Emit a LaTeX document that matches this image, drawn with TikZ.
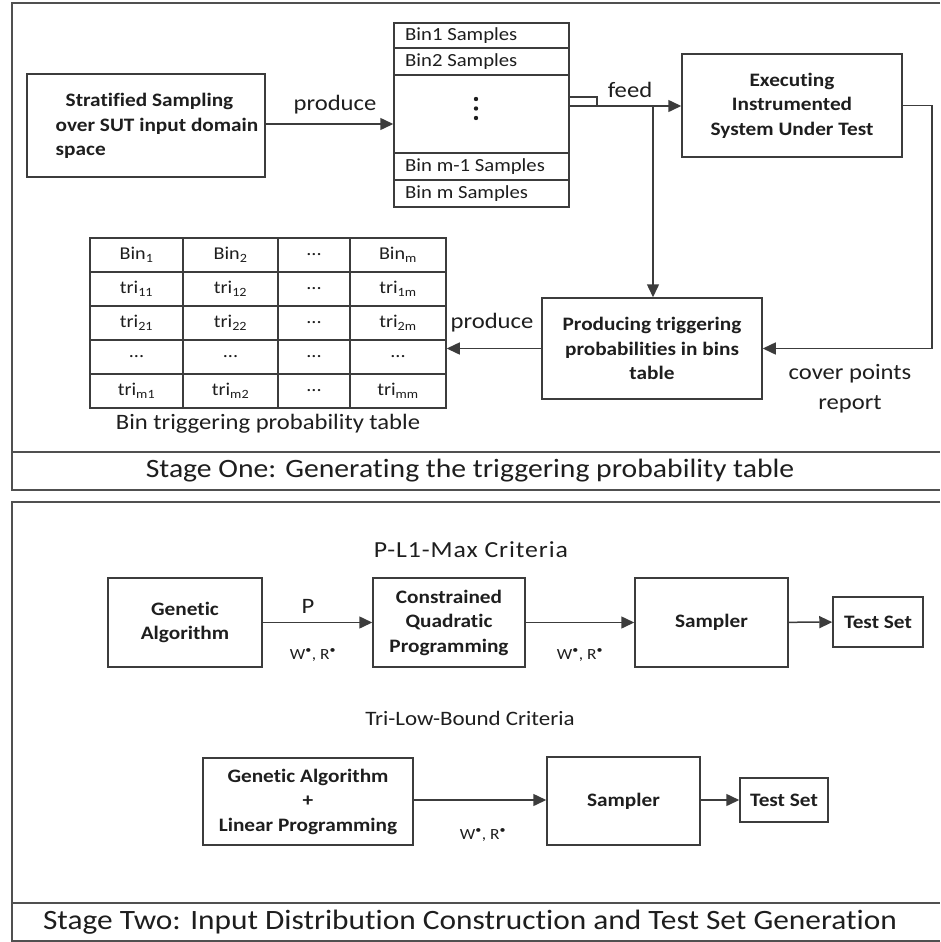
\documentclass[tikz,border=0pt]{standalone}
\usepackage{fontspec}
\setmainfont[FakeStretch=1.12, Ligatures={NoCommon}]{Carlito}
\usetikzlibrary{arrows.meta}
\definecolor{ink}{HTML}{1E1E1E}
\definecolor{edge}{HTML}{3C3C3C}
\definecolor{framec}{HTML}{505050}
\newcommand\bxfont{\fontsize{19}{24.5}\selectfont\bfseries}
\newcommand\lbfont{\fontsize{22}{30}\selectfont}
\newcommand\crfont{\fontsize{20.5}{26}\selectfont}
\newcommand\crbigfont{\fontsize{23}{26}\selectfont\addfontfeature{LetterSpace=4}}
\newcommand\smfont{\fontsize{15.5}{18}\selectfont}
\newcommand\tbfont{\fontsize{18.5}{22}\selectfont}
\newcommand\cellfont{\fontsize{18}{22}\selectfont}
\newcommand\stfont{\fontsize{26.5}{30}\selectfont}
\newcommand\sttwofont{\fontsize{28}{30}\selectfont}
\newcommand\rb{\textsuperscript{\textbullet}}
\begin{document}
\begin{tikzpicture}[x=1pt,y=-1pt,
  every node/.style={text=ink},
  box/.style={draw=edge, line width=1.5pt, inner sep=0pt, font=\bxfont, align=center},
  lbl/.style={font=\lbfont, inner sep=0pt, align=center},
  arr/.style={draw=edge, line width=1.5pt, -{Triangle[length=13pt,width=12pt]}},
  conn/.style={draw=edge, line width=1.5pt},
  frame/.style={draw=framec, line width=2pt}]
\useasboundingbox[fill=white] (0,0) rectangle (940,942);

% ---------- stage frames ----------
\draw[frame] (940,3) -- (12,3) -- (12,490) -- (940,490);
\draw[frame] (12,452) -- (940,452);
\node[font=\stfont, inner sep=0pt] (st1) at (470,471) {Stage One: Generating the triggering probability table};
\draw[frame] (940,502) -- (12,502) -- (12,941) -- (940,941);
\draw[frame] (12,903) -- (940,903);
\node[font=\sttwofont, inner sep=0pt] (st2) at (470,922) {Stage Two: Input Distribution Construction and Test Set Generation};

% ---------- stage one ----------
\node[box, minimum width=238pt, minimum height=103pt] (strat) at (146,125.5) {};
\node[font=\bxfont, align=left, inner sep=0pt, text=ink] (strattxt) at (157,126)
  {\hspace*{10pt}Stratified Sampling\\over SUT input domain\\space};

\node[draw=edge, line width=1.5pt, minimum width=175pt, minimum height=184pt, inner sep=0pt] (bins) at (481.5,115) {};
\foreach \yy in {48,75,153,180} \draw[conn] (bins.west |- 0,\yy) -- (bins.east |- 0,\yy);
\foreach \yy/\txt in {35.5/Bin1 Samples, 61.5/Bin2 Samples, 166.5/Bin m-1 Samples, 193.5/Bin m Samples}
  \node[font=\tbfont, anchor=west, inner sep=0pt] at (405,\yy) {\txt};
\foreach \yy in {99,108.5,118} \fill[ink] (476,\yy) circle (2.2pt);

\node[box, minimum width=220pt, minimum height=103pt] (exec) at (792,105.5)
  {Executing\\Instrumented\\System Under Test};
\node[box, minimum width=220pt, minimum height=101pt] (prod) at (652,348.5)
  {Producing triggering\\probabilities in bins\\table};

% probability table
\node[draw=edge, line width=1.5pt, minimum width=356pt, minimum height=170pt, inner sep=0pt] (tbl) at (268,323) {};
\foreach \yy in {272,306,340,374} \draw[conn] (tbl.west |- 0,\yy) -- (tbl.east |- 0,\yy);
\foreach \xx in {183,278,350} \draw[conn] (\xx,238) -- (\xx,408);
\begin{scope}[every node/.style={font=\cellfont, inner sep=0pt, text=ink}]
  \node at (136.5,255) {Bin\textsubscript{1}};
  \node at (230.5,255) {Bin\textsubscript{2}};
  \node at (314,255) {...};
  \node at (398,255) {Bin\textsubscript{m}};
  \node at (136.5,289) {tri\textsubscript{11}};
  \node at (230.5,289) {tri\textsubscript{12}};
  \node at (314,289) {...};
  \node at (398,289) {tri\textsubscript{1m}};
  \node at (136.5,323) {tri\textsubscript{21}};
  \node at (230.5,323) {tri\textsubscript{22}};
  \node at (314,323) {...};
  \node at (398,323) {tri\textsubscript{2m}};
  \node at (136.5,357) {...};
  \node at (230.5,357) {...};
  \node at (314,357) {...};
  \node at (398,357) {...};
  \node at (136.5,391) {tri\textsubscript{m1}};
  \node at (230.5,391) {tri\textsubscript{m2}};
  \node at (314,391) {...};
  \node at (398,391) {tri\textsubscript{mm}};
\end{scope}
\node[lbl] (tcap) at (268,424) {Bin triggering probability table};

% connectors of stage one
\draw[arr] (strat.east |- 0,124) -- (bins.west |- 0,124);
\node[lbl] (lprod1) at (335,105) {produce};

\coordinate (fjoin) at (597,106);
\coordinate (fsplit) at (653,106);
\draw[conn] (bins.east |- 0,97) -- (fjoin |- 0,97) -- (fjoin);
\draw[arr] (bins.east |- fjoin) -- (exec.west |- fjoin);
\draw[arr] (fsplit) -- (fsplit |- prod.north);
\node[lbl] (lfeed) at (630,90) {feed};

\draw[arr] (exec.east) -- ++(29,0) |- (prod.east);
\node[lbl] (lcover) at (850,389) {cover points\\report};

\draw[arr] (prod.west) -- (prod.west -| tbl.east);
\node[lbl] (lprod2) at (492,323) {produce};

% ---------- stage two ----------
\node[font=\crbigfont, inner sep=0pt] (crit1) at (471,550) {P-L1-Max Criteria};
\node[box, minimum width=154pt, minimum height=89pt] (ga) at (185,622.5) {Genetic\\Algorithm};
\node[box, minimum width=152pt, minimum height=89pt] (cqp) at (449,622.5) {Constrained\\Quadratic\\Programming};
\node[box, minimum width=153pt, minimum height=89pt] (samp1) at (711.5,622.5) {Sampler};
\node[box, minimum width=90pt, minimum height=50pt] (ts1) at (878,622) {Test Set};
\draw[arr] (ga) -- (cqp);
\draw[arr] (cqp) -- (samp1);
\draw[arr] (samp1) -- (ts1);
\node[lbl] (lp) at (308,606) {P};
\node[font=\smfont, inner sep=0pt] (lw1) at (313,655) {W\rb, R\rb};
\node[font=\smfont, inner sep=0pt] (lw2) at (580,655) {W\rb, R\rb};

\node[font=\crfont, inner sep=0pt] (crit2) at (470,718) {Tri-Low-Bound Criteria};
\node[box, minimum width=210pt, minimum height=87pt] (galp) at (308,801.5) {Genetic Algorithm\\+\\Linear Programming};
\node[box, minimum width=153pt, minimum height=88pt] (samp2) at (623.5,801) {Sampler};
\node[box, minimum width=88pt, minimum height=44pt] (ts2) at (784,800) {Test Set};
\draw[arr] (galp.east |- 0,800) -- (samp2.west |- 0,800);
\draw[arr] (samp2.east |- 0,800) -- (ts2.west |- 0,800);
\node[font=\smfont, inner sep=0pt] (lw3) at (483,835) {W\rb, R\rb};
\end{tikzpicture}
\end{document}
